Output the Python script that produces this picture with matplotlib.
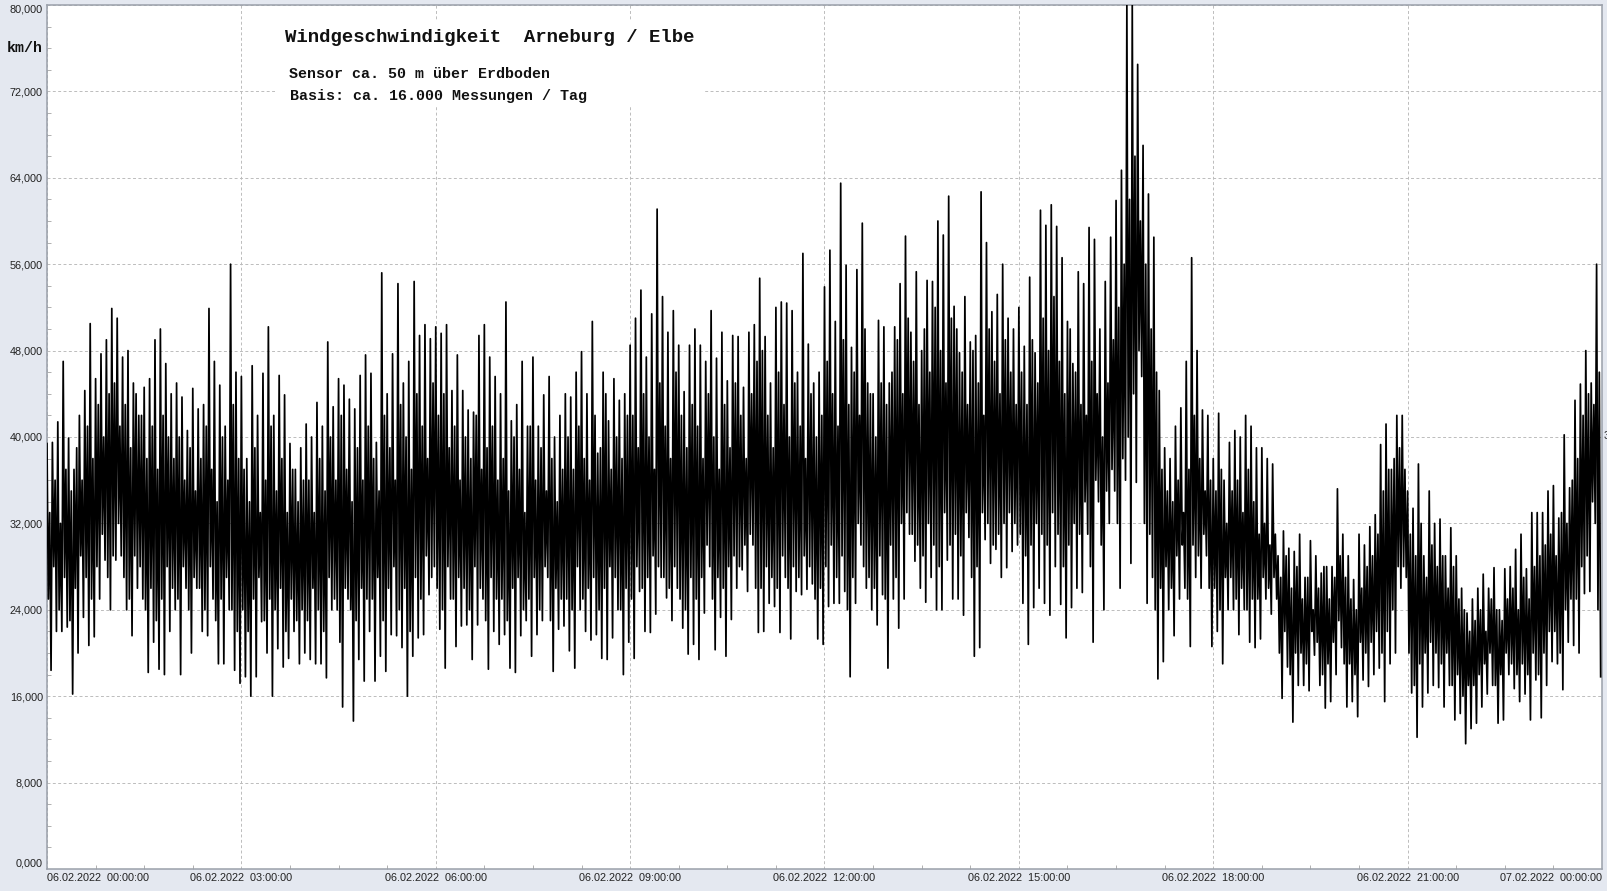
"""Windgeschwindigkeit Arneburg / Elbe, 06.02.2022 - redrawn from the picture."""
import numpy as np
import matplotlib
matplotlib.use("Agg")
import matplotlib.pyplot as plt
from matplotlib.patches import Rectangle

# ---- data, km/h: one row per hour, one value per 5 minutes ----
peak_speed = [
    39.4, 39.5, 41.4, 47.0, 39.9, 37.0, 42.0, 44.3, 50.5, 45.4, 47.7, 49.0,
    51.9, 51.0, 47.4, 48.0, 45.0, 42.0, 44.6, 45.4, 49.0, 50.0, 46.8, 44.0,
    45.0, 43.7, 40.6, 44.5, 42.6, 43.0, 51.9, 47.0, 44.8, 41.0, 56.0, 46.0,
    45.6, 38.0, 46.6, 42.0, 45.9, 50.2, 42.0, 45.7, 43.9, 39.4, 37.0, 39.0,
    41.2, 40.0, 43.2, 41.0, 48.8, 42.8, 45.4, 44.8, 43.5, 42.6, 45.7, 47.6,
    45.9, 39.5, 55.2, 44.0, 47.7, 54.2, 45.0, 47.0, 54.4, 49.4, 50.4, 49.1,
    50.2, 49.6, 50.4, 44.3, 47.6, 44.3, 42.5, 42.3, 49.4, 50.4, 47.4, 45.6,
    44.0, 52.5, 41.5, 43.0, 47.0, 41.0, 47.4, 41.0, 43.9, 45.6, 40.0, 42.0,
    44.0, 43.7, 46.0, 47.9, 44.0, 50.7, 38.5, 46.0, 41.5, 45.4, 43.4, 44.0,
    48.5, 51.0, 53.6, 47.4, 51.4, 61.1, 53.0, 49.7, 51.7, 48.5, 44.2, 48.5,
    50.0, 48.5, 47.0, 51.7, 47.3, 49.7, 45.2, 49.4, 49.3, 44.6, 49.7, 50.4,
    54.7, 49.3, 45.0, 52.0, 52.5, 52.4, 51.7, 46.0, 57.0, 48.6, 45.0, 46.0,
    53.9, 57.3, 50.7, 63.5, 55.9, 48.3, 55.5, 59.8, 45.0, 44.0, 50.8, 50.2,
    45.0, 50.2, 54.2, 58.6, 49.7, 55.3, 48.0, 54.5, 54.4, 60.0, 58.7, 62.3,
    52.1, 47.8, 53.0, 48.8, 49.4, 62.7, 58.0, 51.6, 53.2, 56.0, 51.0, 50.0,
    52.0, 48.4, 54.8, 47.8, 61.0, 59.6, 61.5, 59.5, 56.6, 50.7, 46.8, 55.3,
    54.2, 59.4, 58.3, 50.0, 54.4, 58.5, 61.9, 64.7, 80.0, 80.0, 74.5, 67.0,
    62.5, 58.5, 44.3, 39.0, 38.0, 41.0, 42.7, 47.0, 56.6, 48.0, 42.5, 42.0,
    38.0, 42.2, 36.0, 39.5, 40.6, 40.0, 42.0, 41.0, 39.0, 39.0, 38.0, 37.5,
    29.0, 31.3, 29.7, 29.4, 31.0, 27.0, 30.4, 29.0, 27.4, 28.0, 28.0, 35.2,
    31.0, 29.0, 26.8, 31.0, 30.0, 31.7, 32.8, 39.3, 41.2, 37.0, 42.0, 42.0,
    35.0, 33.4, 37.5, 29.0, 35.0, 32.0, 32.4, 29.0, 31.6, 29.0, 26.0, 23.7,
    25.0, 26.0, 27.3, 26.0, 27.9, 24.0, 27.8, 28.0, 29.6, 31.0, 27.8, 33.0,
    33.0, 33.0, 35.0, 35.5, 32.5, 40.2, 35.3, 43.4, 44.9, 48.0, 45.0, 56.0,
]
low_speed = [
    18.4, 22.0, 22.0, 22.4, 16.2, 20.0, 23.3, 20.7, 21.5, 25.0, 28.6, 24.0,
    28.6, 29.0, 24.0, 21.6, 26.0, 25.0, 18.2, 21.0, 18.5, 18.0, 22.0, 24.0,
    18.0, 26.0, 20.0, 26.0, 22.0, 21.6, 25.0, 19.0, 19.0, 24.0, 18.4, 17.2,
    17.8, 16.0, 17.8, 22.9, 20.0, 16.0, 20.4, 18.7, 19.5, 22.0, 19.0, 20.0,
    19.4, 19.0, 19.0, 17.7, 24.0, 24.0, 15.0, 25.0, 13.7, 19.4, 17.4, 22.0,
    17.4, 19.7, 18.3, 21.7, 21.6, 20.5, 16.0, 19.7, 21.4, 21.7, 25.4, 28.0,
    22.2, 18.6, 25.0, 20.6, 22.5, 22.6, 19.4, 22.6, 25.0, 18.5, 22.0, 20.8,
    21.7, 18.6, 18.2, 21.6, 23.0, 19.7, 21.7, 23.0, 27.0, 18.3, 22.2, 22.5,
    20.2, 18.6, 24.0, 22.0, 21.2, 21.7, 19.5, 19.4, 21.4, 24.0, 18.0, 21.0,
    19.5, 25.7, 22.0, 21.9, 23.6, 27.0, 25.1, 23.0, 26.0, 22.3, 19.9, 20.8,
    19.4, 23.7, 28.0, 20.3, 23.3, 19.7, 23.1, 26.0, 27.7, 25.7, 30.0, 21.9,
    22.0, 24.6, 24.3, 21.9, 27.0, 21.3, 25.7, 25.4, 25.9, 26.4, 21.3, 20.8,
    24.3, 24.6, 24.6, 25.7, 17.8, 24.6, 30.0, 26.0, 24.0, 22.6, 25.4, 18.6,
    25.0, 22.3, 25.0, 31.0, 28.5, 26.0, 24.7, 27.0, 24.0, 24.0, 28.6, 25.0,
    25.0, 23.5, 30.7, 19.7, 20.5, 30.5, 28.3, 29.6, 27.0, 27.9, 29.4, 30.0,
    24.6, 20.8, 24.2, 26.0, 24.6, 23.5, 28.0, 24.5, 21.4, 24.2, 26.0, 25.6,
    31.0, 21.0, 34.0, 24.0, 32.0, 35.0, 26.0, 36.0, 28.3, 35.8, 45.6, 24.6,
    27.0, 17.6, 19.2, 24.0, 21.6, 25.0, 26.0, 20.6, 27.0, 26.0, 29.0, 20.6,
    22.0, 19.0, 24.0, 24.0, 21.7, 24.0, 21.0, 20.5, 21.3, 25.0, 23.6, 25.0,
    15.8, 18.7, 13.6, 17.0, 17.0, 16.5, 19.8, 17.0, 14.9, 15.5, 18.0, 20.5,
    15.0, 15.5, 14.1, 17.5, 16.9, 18.0, 18.6, 15.5, 19.0, 20.0, 26.0, 27.0,
    16.3, 12.2, 15.0, 16.3, 17.0, 16.8, 15.0, 17.0, 13.8, 14.4, 11.6, 13.0,
    13.5, 15.0, 16.2, 17.0, 13.5, 13.8, 18.0, 16.7, 15.5, 16.2, 13.8, 17.5,
    14.0, 17.0, 19.2, 19.0, 16.6, 21.0, 20.7, 20.0, 25.5, 25.7, 32.0, 17.8,
]
# smaller swings in between, these make the black middle of the trace
inner_high = [
    33, 36, 32, 37, 35, 39, 36, 41, 38, 43, 40, 44,
    45, 41, 43, 39, 44, 42, 38, 41, 37, 42, 40, 38,
    40, 36, 39, 35, 38, 41, 37, 34, 40, 36, 43, 38,
    37, 34, 39, 33, 36, 41, 35, 38, 33, 37, 34, 36,
    36, 33, 38, 35, 40, 36, 42, 37, 34, 39, 36, 41,
    38, 35, 42, 39, 36, 43, 40, 37, 44, 41, 38, 45,
    42, 44, 39, 41, 36, 40, 38, 42, 37, 39, 41, 36,
    38, 35, 40, 37, 33, 41, 36, 39, 35, 38, 34, 37,
    40, 37, 41, 38, 36, 42, 39, 44, 37, 40, 38, 42,
    42, 39, 44, 40, 37, 45, 41, 38, 46, 42, 39, 43,
    41, 38, 44, 40, 37, 43, 39, 45, 42, 38, 44, 47,
    48, 42, 39, 46, 43, 40, 45, 41, 38, 44, 40, 42,
    47, 44, 41, 49, 43, 46, 42, 50, 44, 40, 45, 43,
    46, 49, 44, 51, 47, 43, 50, 46, 52, 48, 45, 51,
    50, 46, 43, 48, 45, 42, 50, 47, 44, 49, 46, 43,
    46, 43, 49, 45, 51, 48, 53, 47, 44, 50, 46, 43,
    42, 47, 44, 40, 45, 49, 52, 56, 62, 66, 60, 56,
    50, 46, 37, 35, 34, 36, 33, 37, 42, 38, 35, 36,
    35, 37, 32, 35, 36, 33, 37, 34, 31, 32, 30, 31,
    27, 29, 26, 28, 25, 27, 24, 26, 28, 25, 27, 29,
    27, 25, 24, 26, 28, 29, 31, 35, 37, 38, 39, 37,
    31, 29, 32, 27, 30, 28, 29, 26, 28, 25, 24, 22,
    23, 24, 22, 25, 24, 23, 25, 26, 24, 27, 25, 28,
    29, 30, 31, 29, 33, 32, 36, 38, 42, 44, 43, 46,
]
inner_low = [
    25, 28, 24, 27, 23, 26, 29, 27, 25, 28, 31, 27,
    29, 32, 27, 25, 29, 28, 24, 26, 23, 25, 28, 26,
    25, 28, 24, 27, 26, 24, 28, 23, 25, 27, 24, 22,
    24, 22, 25, 27, 23, 25, 24, 26, 22, 25, 23, 24,
    23, 26, 24, 22, 27, 25, 21, 26, 24, 23, 26, 25,
    25, 27, 23, 26, 28, 24, 26, 22, 27, 25, 29, 27,
    26, 24, 28, 25, 27, 26, 24, 28, 26, 23, 27, 25,
    25, 23, 26, 27, 24, 25, 27, 24, 28, 23, 26, 25,
    25, 24, 28, 25, 26, 27, 24, 26, 28, 27, 24, 26,
    25, 28, 26, 27, 29, 28, 27, 26, 28, 25, 24, 27,
    25, 27, 30, 25, 27, 26, 28, 29, 28, 30, 31, 26,
    26, 28, 27, 26, 29, 26, 28, 27, 29, 28, 25, 26,
    28, 30, 27, 29, 24, 27, 32, 28, 27, 26, 29, 25,
    30, 27, 32, 33, 31, 30, 29, 32, 30, 28, 33, 30,
    31, 29, 33, 27, 28, 33, 32, 30, 31, 32, 33, 32,
    31, 29, 30, 32, 31, 30, 33, 31, 28, 30, 32, 31,
    34, 28, 36, 30, 35, 37, 32, 38, 40, 44, 48, 32,
    31, 24, 26, 28, 26, 29, 30, 25, 30, 29, 31, 26,
    26, 24, 27, 27, 25, 26, 24, 25, 25, 27, 26, 27,
    20, 22, 18, 20, 20, 19, 22, 21, 18, 19, 21, 23,
    19, 19, 18, 21, 20, 21, 22, 20, 22, 24, 28, 28,
    20, 17, 19, 20, 21, 20, 19, 20, 17, 18, 16, 17,
    17, 18, 19, 20, 17, 18, 20, 19, 18, 19, 18, 20,
    18, 20, 22, 22, 20, 24, 25, 25, 28, 29, 34, 24,
]

x_hours = [0, 3, 6, 9, 12, 15, 18, 21, 24]
x_labels = ["06.02.2022  00:00:00", "06.02.2022  03:00:00", "06.02.2022  06:00:00",
            "06.02.2022  09:00:00", "06.02.2022  12:00:00", "06.02.2022  15:00:00",
            "06.02.2022  18:00:00", "06.02.2022  21:00:00", "07.02.2022  00:00:00"]
y_values = [0, 8, 16, 24, 32, 40, 48, 56, 64, 72, 80]
y_labels = ["0,000", "8,000", "16,000", "24,000", "32,000", "40,000",
            "48,000", "56,000", "64,000", "72,000", "80,000"]

# ---- layout in pixels of the 1607x891 picture ----
W, H = 1607, 891
L, R, T, B = 47, 1602, 5, 869
BG = "#e4e8f0"
GRID = "#bcbcbc"
EDGE = "#9aa0aa"
MONO = "Liberation Mono"
SANS = "Liberation Sans"

fig = plt.figure(figsize=(W / 100, H / 100), dpi=100, facecolor=BG)
ax = fig.add_axes([L / W, 1 - B / H, (R - L) / W, (B - T) / H], facecolor="white")

# one trace: peak -> inner low -> inner high -> low, repeated every 5 minutes
speed = np.column_stack([peak_speed, inner_low, inner_high, low_speed]).ravel()
t = np.arange(len(speed)) / 48

ax.plot(t, speed, color="black", lw=1.25, zorder=3)

ax.set_xlim(0, 24)
ax.set_ylim(0, 80)
ax.set_xticks(x_hours)
ax.set_xticks(np.arange(0, 24.01, 0.75), minor=True)
ax.set_yticks(y_values)
ax.set_yticks(np.arange(0, 80.01, 2), minor=True)
ax.set_xticklabels(x_labels, fontsize=7.8, family=SANS, color="#222222")
ax.set_yticklabels(y_labels, fontsize=7.8, family=SANS, color="#222222")
ax.get_xticklabels()[0].set_ha("left")
ax.get_xticklabels()[-1].set_ha("right")
ax.get_yticklabels()[0].set_va("bottom")
ax.get_yticklabels()[-1].set_va("top")
ax.tick_params(which="major", length=0, pad=3)
ax.tick_params(which="minor", direction="in", length=3, width=0.7, color="#b0b0b0")
ax.grid(True, which="major", ls=(0, (3, 2.5)), lw=0.7, color=GRID)
ax.set_axisbelow(True)
for side in ax.spines.values():
    side.set_color(EDGE)
    side.set_linewidth(1.1)

# white box behind the heading hides the grid there
ax.add_patch(Rectangle((3.55, 70.7), 6.6, 7.9, facecolor="white", lw=0, zorder=1))

fig.text(285 / W, 1 - 38 / H, "Windgeschwindigkeit  Arneburg / Elbe", family=MONO,
         weight="bold", fontsize=13.7, va="center", color="#111111")
fig.text(289 / W, 1 - 74 / H, "Sensor ca. 50 m über Erdboden", family=MONO,
         weight="bold", fontsize=10.8, va="center", color="#111111")
fig.text(290 / W, 1 - 96 / H, "Basis: ca. 16.000 Messungen / Tag", family=MONO,
         weight="bold", fontsize=10.8, va="center", color="#111111")
fig.text(7 / W, 1 - 48 / H, "km/h", family=MONO, weight="bold", fontsize=10.8,
         va="center", color="#111111")
# cut-off label at the right edge
fig.text(1604 / W, 1 - 436 / H, "3", family=SANS, fontsize=7.8, va="center", color="#222222")

fig.savefig("out.png", dpi=100, facecolor=BG)
